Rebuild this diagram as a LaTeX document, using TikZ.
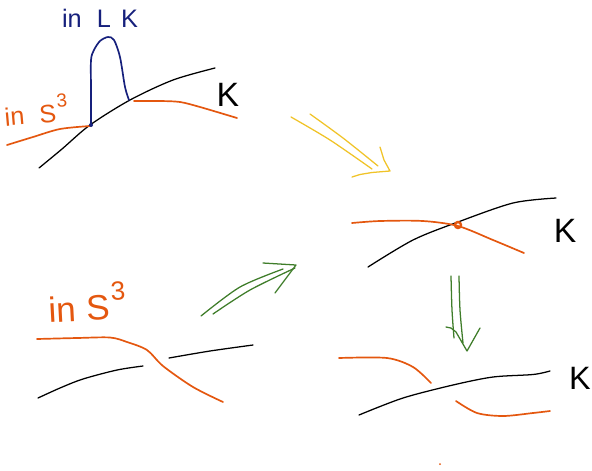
\documentclass[tikz,border=0pt]{standalone}
\usepackage{fontspec}
\setmainfont{Liberation Sans}
\definecolor{knotred}{HTML}{E4570F}
\definecolor{lknavy}{HTML}{16207C}
\definecolor{moveyellow}{HTML}{F0C328}
\definecolor{movegreen}{HTML}{3F7D2A}
\newcommand{\fsz}[1]{\fontsize{#1}{#1}\selectfont}
\newcommand{\inSthree}[1]{in\hspace{#1}S\hspace{.05em}\raisebox{.55em}{\scalebox{.75}{3}}}
\newcommand{\strand}[2]{
	\draw [#1] plot [smooth,tension=0.5] coordinates {#2};
	}
\newcommand{\move}[4]{
	\strand{#1}{#2}
	\strand{#1}{#3}
	\draw [#1] #4;
	}

\begin{document}
\begin{tikzpicture}[
      x=0.025cm,y=-0.025cm, %one unit is one pixel
      knot/.style={line width=0.9pt,black,line cap=round},
      red/.style={line width=1.2pt,knotred,line cap=round},
      navy/.style={line width=1.2pt,lknavy,line cap=round},
      yellowmove/.style={line width=0.9pt,moveyellow,line cap=round,line join=round},
      greenmove/.style={line width=0.9pt,movegreen,line cap=round,line join=round},
      label/.style={inner sep=0pt}
    ]
    \useasboundingbox (0,0) rectangle (592,470);
    % Top left, arc in LK
    \strand{knot}{(39,168) (62,149) (90,125) (130,100) (173,80) (215,68)}
    \strand{red}{(7,145) (33,137) (60,129) (90,126)}
    \strand{red}{(134,101) (160,101) (180,102) (200,107) (237,118)}
    \strand{navy}{(91,125) (91,90) (91,60) (94,50) (100,41) (108,37) (114,40) (120,57) (125,87) (129,100)}
    \fill [lknavy] (91,125) circle (2);
    \node[label,text=lknavy,font=\fsz{18}] (inLK) at (100,18) {in\hspace{.6em}L\hspace{.4em}K};
    \node[label,text=knotred,font=\fsz{18},rotate=5] (inSa) at (36,110) {\inSthree{.6em}};
    \node[label,font=\fsz{24}] (Ka) at (228,95) {K};
    % Yellow move
    \move{yellowmove}{(291,117) (330,140) (372,169)}{(310,114) (343,138) (378,166)}{(352,177) -- (360,174.5) -- (372,172.5) -- (390,171) -- (384,160) -- (380,147)}
    % Middle right, intersection
    \strand{knot}{(368,267) (413,240) (458,222) (513,203) (556,198)}
    \strand{red}{(352,223) (380,221) (423,221) (458,226) (493,240) (524,253)}
    \draw [knotred,line width=1.7pt] (458,225) circle (3);
    \node[label,font=\fsz{24}] (Kb) at (565,231) {K};
    % Bottom left, crossing
    \strand{red}{(37,339) (77,338) (110,337.5) (127,342) (147,350) (163,366) (193,387) (223,402)}
    \strand{knot}{(38,398) (60,388) (83,379) (117,370) (143,366)}
    \strand{knot}{(169,358) (210,351) (253,345)}
    \node[label,text=knotred,font=\fsz{25},rotate=3] (inSb) at (87,302) {\inSthree{.3em}};
    % Green moves
    \move{greenmove}{(201,316) (240,287) (283,269)}{(213,314) (250,290) (295,268)}{(263,263) -- (296,265) -- (275,293)}
    \move{greenmove}{(451,276) (452,310) (454,338)}{(459,276) (460,310) (463,343)}{(446,327) -- (451,328) -- (456,332) -- (467,351) -- (480,328)}
    % Bottom right, other crossing
    \strand{knot}{(359,415) (403,398) (453,385) (493,377) (533,374.5) (550,371)}
    \strand{red}{(339,358) (387,358) (413,367) (431,383)}
    \strand{red}{(456,401) (477,413) (503,416) (533,413) (550,411)}
    \node[label,font=\fsz{23}] (Kc) at (580,378) {K};
    \fill [knotred] (440,464) circle (1);
    \end{tikzpicture}
\end{document}
